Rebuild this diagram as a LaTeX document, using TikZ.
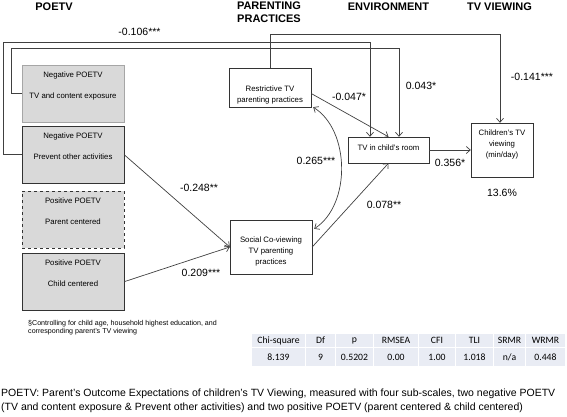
\documentclass[tikz,border=0pt]{standalone}
\usepackage{fontspec}
\setmainfont{Liberation Sans}
\newfontfamily\tabfont{Carlito}
\usetikzlibrary{arrows.meta, calc}
\definecolor{boxgray}{RGB}{217,217,217}
\definecolor{tabfill}{RGB}{233,236,244}

\begin{document}
\begin{tikzpicture}[
    x=1pt, y=-1pt,
    poetv/.style={draw=black!80, fill=boxgray, minimum width=102, minimum height=57,
                  anchor=north, inner sep=0pt},
    faint/.style={draw=black!35},
    plain/.style={},
    practice/.style={draw=black!80, fill=white, inner sep=0pt},
    boxtext/.style={font=\fontsize{7.8}{11}\selectfont, align=center, inner sep=0pt},
    coef/.style={font=\fontsize{10.5}{12}\selectfont, inner sep=0pt},
    heading/.style={font=\fontsize{11}{13.5}\selectfont\bfseries, align=center, inner sep=0pt},
    link/.style={->, line width=0.7pt, draw=black!75},
    cell/.style={fill=tabfill, draw=white, line width=1pt, inner sep=0pt,
                 anchor=north west, font=\tabfont\fontsize{9.7}{11}\selectfont},
    >={Straight Barb[length=4pt, width=7pt]}
  ]
  \useasboundingbox (0,0) rectangle (567,416);

  % column headings
  \node[heading] (hpoetv) at (54,6.5) {POETV};
  \node[heading] (hpract) at (269,12) {PARENTING\\PRACTICES};
  \node[heading] (henv) at (388.5,6.5) {ENVIRONMENT};
  \node[heading] (htv) at (499.5,6.5) {TV VIEWING};

  % POETV sub-scales
  \foreach \n/\t/\a/\b/\s in {exposure/65/Negative/TV and content exposure/faint,
      prevent/126/Negative/Prevent other activities/plain,
      parent/191/Positive/Parent centered/dashed,
      child/253/Positive/Child centered/plain} {
    \node[poetv, \s] (\n) at (73,\t) {};
    \node[boxtext] (\n-1) at (73,\t+10) {\a\ POETV};
    \node[boxtext] (\n-2) at (73,\t+31) {\b};
  }

  % mediators and outcome
  \node[practice, minimum width=82, minimum height=39] (restrict) at (270,87.5) {};
  \node[boxtext] (restrict-t) at (270,94.5) {Restrictive TV\\parenting practices};
  \node[practice, minimum width=82, minimum height=54] (social) at (271,247) {};
  \node[boxtext] (social-t) at (271,251) {Social Co-viewing\\TV parenting\\practices};
  \node[practice, minimum width=81, minimum height=26] (room) at (388.5,150) {};
  \node[boxtext] (room-t) at (388.5,147.5) {TV in child's room};
  \node[practice, minimum width=62, minimum height=54] (viewing) at (502,150) {};
  \node[boxtext] (viewing-t) at (502,144) {Children's TV\\viewing\\(min/day)};
  \node[coef] (r2) at (502,193) {13.6\%};

  % paths
  \coordinate (ra) at (370,42);
  \coordinate (rb) at (399,48);
  \coordinate (rc) at (500,34);
  \draw[link] (prevent.west) -- ++(-18,0) |- (ra) -- (ra |- room.north);
  \draw[link] (exposure.west) -- ++(-10,0) |- (rb) -- (rb |- room.north);
  \draw[link] (restrict.north) |- (rc) -- (rc |- viewing.north);
  \draw[link] (prevent.east) -- (social.west);
  \draw[link] (child.east) -- (social.west);
  \draw[link] ($(restrict.east)+(0,6)$) -- (room.north);
  \draw[link] (social.east) -- (room.south);
  \draw[link] (room.east) -- (viewing.west);
  \draw[link, <->] ($(restrict.south east)+(2,0)$) .. controls +(37,23) and +(37,-24)
    .. ($(social.north east)+(2,9)$);

  % coefficients
  \node[coef] (c1) at (139.5,32) {-0.106***};
  \node[coef] (c2) at (421,86) {0.043*};
  \node[coef] (c3) at (532,77) {-0.141***};
  \node[coef] (c4) at (349,97) {-0.047*};
  \node[coef] (c5) at (316,161) {0.265***};
  \node[coef] (c6) at (384,205) {0.078**};
  \node[coef] (c7) at (199,188) {-0.248**};
  \node[coef] (c8) at (201,273) {0.209***};
  \node[coef] (c9) at (450,163) {0.356*};

  % note and fit indices
  \node[font=\fontsize{7.1}{8.5}\selectfont, align=left, anchor=north west, inner sep=0pt]
    (note) at (28,320) {\S Controlling for child age, household highest education, and\\
      corresponding parent's TV viewing};
  \foreach \h/\v/\xa/\xb [count=\i] in {Chi-square/8.139/251/305, Df/9/305/335,
      p/0.5202/335/373, RMSEA/0.00/373/418, CFI/1.00/418/455, TLI/1.018/455/493,
      SRMR/{n/a}/493/525, WRMR/0.448/525/565} {
    \node[cell, minimum width={\xb-\xa}, minimum height=14] (h\i) at (\xa,333) {\h};
    \node[cell, minimum width={\xb-\xa}, minimum height=19] (v\i) at (\xa,347) {\v};
  }

  \node[font=\fontsize{10.5}{14.5}\selectfont, align=left, anchor=north west, inner sep=0pt]
    (legend) at (1,388.5) {POETV: Parent's Outcome Expectations of children's TV Viewing,
      measured with four sub-scales, two negative POETV\\(TV and content exposure \&
      Prevent other activities) and two positive POETV (parent centered \& child centered)};
\end{tikzpicture}
\end{document}
